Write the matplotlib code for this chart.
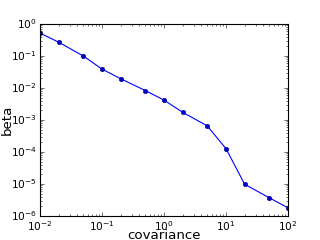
import numpy as np
import matplotlib
matplotlib.use('Agg')
import matplotlib.pyplot as plt

plt.style.use('classic')

covariance = [0.01, 0.02, 0.05, 0.1, 0.2, 0.5, 1, 2, 5, 10, 20, 50, 100]
beta = [0.52, 0.27, 0.1, 0.039, 0.0195, 0.0083, 0.0042, 0.00174,
        0.00065, 1.27e-4, 9.8e-6, 3.7e-6, 1.8e-6]

fig = plt.figure(figsize=(4, 3), dpi=80)
ax = plt.gca()
plt.loglog(covariance, beta, 'b-', marker='o', markersize=4, markeredgecolor='#00008b', markerfacecolor='#0000cc')
plt.xlim(1e-2, 1e2)
plt.ylim(1e-6, 1e0)
ax.tick_params(labelsize=9.5, pad=3)
plt.xlabel('covariance', va='baseline')
plt.ylabel('beta', va='baseline')
ax.xaxis.set_label_coords(0.5, -0.118)
ax.yaxis.set_label_coords(-0.118, 0.5)
plt.savefig('out.png', dpi=80)
